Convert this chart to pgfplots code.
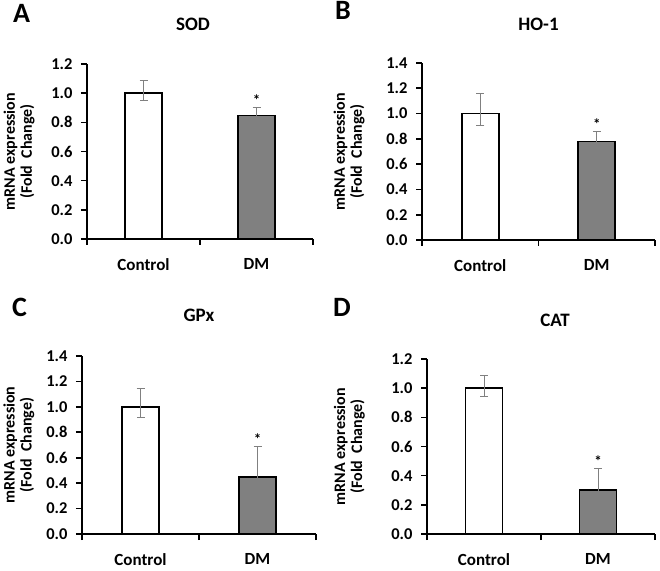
\documentclass[border=0pt]{standalone}
\usepackage{fontspec}
\setmainfont{Carlito}
\usepackage{pgfplots}
\pgfplotsset{compat=1.18}

\pgfplotsset{
  mrna/.style={
    scale only axis, clip=false,
    axis x line*=bottom, axis y line*=left,
    axis line style={line width=1.6pt},
    xmin=0, xmax=2, ymin=0,
    xtick={0,1,2}, xticklabels={},
    extra x ticks={0.5,1.5}, extra x tick labels={Control,DM},
    extra x tick style={major tick length=0pt,
      tick label style={font=\fontsize{17}{17}\selectfont\bfseries, yshift=-16pt}},
    ytick distance=0.2,
    tick align=outside, major tick length=6pt,
    every tick/.style={black, line width=1.6pt},
    /pgf/number format/assume math mode=true,
    yticklabel style={xshift=-5pt, /pgf/number format/.cd, fixed, fixed zerofill, precision=1},
    tick label style={font=\fontsize{16.5}{16.5}\selectfont\bfseries},
    title style={at={(0.5,1)}, anchor=base, font=\fontsize{19}{19}\selectfont\bfseries},
  },
  bars/.style={ybar, bar width=37pt, bar shift=0pt, draw=black, line width=1.6pt,
    error bars/y dir=both, error bars/y explicit,
    error bars/error bar style={gray, line width=0.8pt},
    error bars/error mark options={rotate=90, gray, line width=0.8pt, mark size=4pt}},
}
\tikzset{
  ylab/.style={rotate=90, align=center, font=\fontsize{16}{17}\selectfont\bfseries},
  star/.style={anchor=south, font=\fontsize{15}{15}\selectfont\bfseries},
}
\definecolor{dmgray}{RGB}{128,128,128}

\begin{document}
\begin{tikzpicture}
\useasboundingbox (0pt,0pt) rectangle (660pt,570pt);

% A: SOD
\begin{axis}[mrna, at={(87pt,331pt)}, anchor=south west, width=226pt, height=175pt,
  ymax=1.2, title={SOD}, title style={yshift=27pt, xshift=-7pt}]
\addplot[bars, fill=white] coordinates {(0.5,1.0) += (0,0.088) -= (0,0.051)};
\addplot[bars, fill=dmgray] coordinates {(1.5,0.846) += (0,0.055) -= (0,0.022)};
\node[star] at (axis cs:1.5,0.89) {*};
\node[ylab] at (rel axis cs:-0.30,0.5) {mRNA expression\\(Fold\ \ Change)};
\end{axis}

% B: HO-1
\begin{axis}[mrna, at={(422pt,330pt)}, anchor=south west, width=233pt, height=177pt,
  ymax=1.4, title={HO-1}, title style={yshift=26pt}]
\addplot[bars, fill=white] coordinates {(0.5,1.0) += (0,0.158) -= (0,0.095)};
\addplot[bars, fill=dmgray] coordinates {(1.5,0.779) += (0,0.076) -= (0,0.047)};
\node[star] at (axis cs:1.5,0.845) {*};
\node[ylab] at (rel axis cs:-0.313,0.5) {mRNA expression\\(Fold\ \ Change)};
\end{axis}

% C: GPx
\begin{axis}[mrna, at={(82pt,36pt)}, anchor=south west, width=234pt, height=178pt,
  ymax=1.4, title={GPx}, title style={yshift=29pt}]
\addplot[bars, fill=white] coordinates {(0.5,1.0) += (0,0.148) -= (0,0.082)};
\addplot[bars, fill=dmgray] coordinates {(1.5,0.446) += (0,0.241) -= (0,0.142)};
\node[star] at (axis cs:1.5,0.675) {*};
\node[ylab] at (rel axis cs:-0.27,0.5) {mRNA expression\\(Fold\ \ Change)};
\end{axis}

% D: CAT
\begin{axis}[mrna, at={(427pt,36pt)}, anchor=south west, width=228pt, height=175pt,
  ymax=1.2, title={CAT}, title style={yshift=27pt, xshift=14pt}]
\addplot[bars, fill=white] coordinates {(0.5,1.0) += (0,0.087) -= (0,0.055)};
\addplot[bars, fill=dmgray] coordinates {(1.5,0.302) += (0,0.149) -= (0,0.084)};
\node[star] at (axis cs:1.5,0.44) {*};
\node[ylab] at (rel axis cs:-0.34,0.5) {mRNA expression\\(Fold\ \ Change)};
\end{axis}

% panel letters
\begin{scope}[font=\fontsize{28}{28}\selectfont\bfseries]
\node[anchor=base west, inner sep=0pt] at (13pt,547pt) {A};
\node[anchor=base west, inner sep=0pt] at (335pt,550pt) {B};
\node[anchor=base west, inner sep=0pt] at (12pt,253pt) {C};
\node[anchor=base west, inner sep=0pt] at (333pt,253pt) {D};
\end{scope}
\end{tikzpicture}
\end{document}
